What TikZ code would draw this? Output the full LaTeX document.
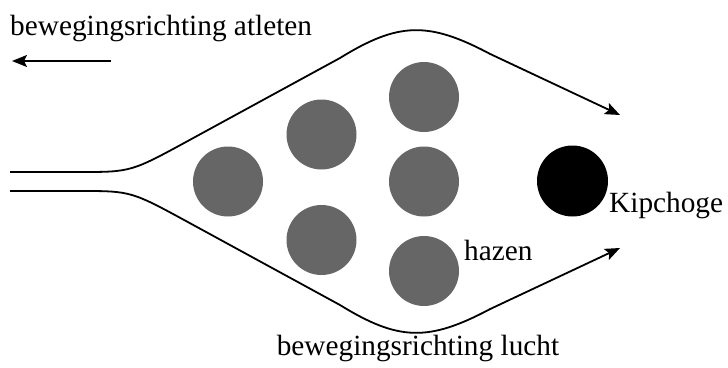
\documentclass[tikz,border=0pt]{standalone}
\usepackage{fontspec}
\setmainfont{Liberation Serif}
\usetikzlibrary{arrows.meta}
\definecolor{hazegray}{HTML}{666666}
\begin{document}
\begin{tikzpicture}[x=1pt,y=-1pt,
  lbl/.style={font=\fontsize{29.3}{35}\selectfont, inner sep=0pt},
  haas/.style={circle, fill=hazegray, minimum size=70pt, inner sep=0pt},
  loper/.style={circle, fill=black, minimum size=71pt, inner sep=0pt},
  flow/.style={line width=1.8pt, -{Stealth[length=15pt,width=12pt,inset=3pt]}}]
\useasboundingbox (0,0) rectangle (728,367);
% runners
\node[haas] (h1) at (228,181.5) {};
\node[haas] (h2) at (321.5,134.5) {};
\node[haas] (h3) at (321.5,240) {};
\node[haas] (h4) at (424,97) {};
\node[haas] (h5) at (424,181.5) {};
\node[haas] (h6) at (424,271) {};
\node[loper] (kip) at (572.5,181) {};
% labels
\node[lbl, anchor=base west] (tatl) at (10,35) {bewegingsrichting atleten};
\node[lbl, anchor=base west] (tkip) at (609,212) {Kipchoge};
\node[lbl, anchor=base west] (thaz) at (464,260) {hazen};
\node[lbl, anchor=base] (tlucht) at (418,355) {bewegingsrichting lucht};
% athletes direction arrow
\coordinate (aS) at (111,61);
\coordinate (aE) at (12,61);
\draw[flow] (aS) -- (aE);
% air flow, upper stream
\coordinate (u0) at (10,172);
\coordinate (u1) at (80,172);
\coordinate (uc1) at (131,172);
\coordinate (u2) at (190,139.8);
\coordinate (u3) at (340,58);
\coordinate (ua) at (398.4,22);
\coordinate (ub) at (428.4,21.2);
\coordinate (u4) at (490,53.9);
\coordinate (u5) at (620,115);
\draw[flow] (u0) -- (u1) .. controls (uc1) .. (u2) -- (u3) .. controls (ua) and (ub) .. (u4) -- (u5);
% air flow, lower stream
\coordinate (l0) at (10,191);
\coordinate (l1) at (80,191);
\coordinate (lc1) at (131,191);
\coordinate (l2) at (190,223.2);
\coordinate (l3) at (340,305);
\coordinate (la) at (398.4,341);
\coordinate (lb) at (428.4,341.8);
\coordinate (l4) at (490,309.1);
\coordinate (l5) at (620,248);
\draw[flow] (l0) -- (l1) .. controls (lc1) .. (l2) -- (l3) .. controls (la) and (lb) .. (l4) -- (l5);
\end{tikzpicture}
\end{document}
